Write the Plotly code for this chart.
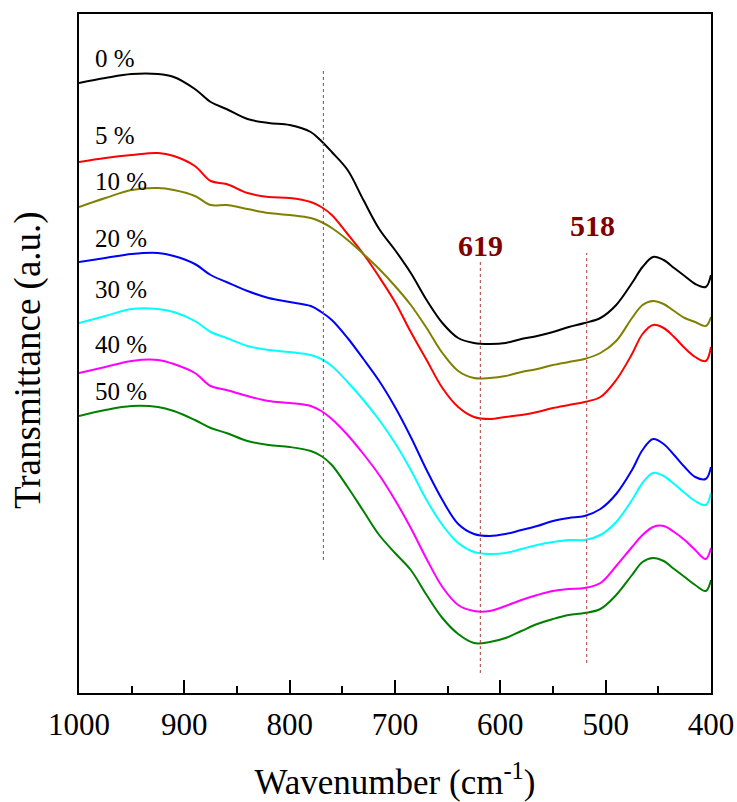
import plotly.graph_objects as go

wavenumber = [1000, 975, 950, 925, 910, 890, 875, 860, 840, 820, 800, 780, 770, 760, 745, 730, 715,
              700, 685, 670, 655, 640, 625, 610, 595, 580, 565, 550, 535, 520, 505, 490, 475, 465,
              455, 445, 435, 425, 415, 405, 400]

t_0 = [610, 615, 619, 619, 616, 604, 591, 584, 574, 570, 568, 561, 552, 541, 523, 493, 464,
       443, 420, 393, 370, 355, 350, 349, 350, 354, 357, 361, 366, 370, 375, 388, 410, 426,
       436, 433, 425, 417, 409, 406, 418]
t_5 = [531, 535, 538, 540, 537, 527, 512, 509, 500, 496, 495, 491, 486, 478, 459, 439, 416,
       391, 361, 333, 305, 286, 276, 274, 276, 278, 281, 285, 288, 291, 296, 313, 339, 359,
       368, 365, 356, 345, 336, 332, 346]
t_10 = [486, 495, 503, 505, 503, 497, 488, 488, 484, 480, 478, 475, 471, 465, 453, 439, 424,
        407, 388, 365, 340, 322, 315, 315, 317, 321, 324, 328, 331, 334, 340, 352, 375, 388,
        392, 389, 382, 375, 371, 367, 376]
t_20 = [431, 435, 439, 440, 437, 429, 418, 411, 402, 395, 391, 387, 381, 373, 355, 334, 312,
        286, 256, 223, 193, 169, 159, 157, 159, 163, 167, 172, 175, 177, 184, 199, 223, 243,
        254, 249, 238, 226, 216, 214, 226]
t_30 = [370, 377, 384, 384, 381, 372, 361, 355, 347, 343, 341, 338, 334, 327, 311, 293, 273,
        250, 223, 193, 168, 150, 141, 139, 140, 144, 148, 151, 153, 153, 158, 171, 193, 210,
        220, 217, 209, 200, 192, 188, 200]
t_40 = [320, 326, 332, 333, 329, 320, 307, 303, 297, 292, 290, 287, 282, 274, 258, 239, 218,
        193, 165, 134, 106, 88, 82, 82, 87, 93, 98, 102, 104, 105, 110, 127, 146, 158,
        166, 167, 161, 153, 143, 134, 145]
t_50 = [277, 283, 287, 286, 282, 273, 265, 260, 252, 248, 246, 242, 237, 228, 206, 182, 158,
        140, 123, 98, 75, 59, 50, 51, 55, 62, 69, 74, 78, 80, 84, 98, 118, 131,
        135, 132, 124, 116, 108, 102, 113]

series_names = ["0 %", "5 %", "10 %", "20 %", "30 %", "40 %", "50 %"]
series_values = [t_0, t_5, t_10, t_20, t_30, t_40, t_50]
series_colors = ["#000000", "#ff0000", "#808000", "#0000ff", "#00ffff", "#ff00ff", "#008000"]
label_y = [635, 558, 512, 455, 404, 349, 302]

marker_lines = [768, 619, 518]
marker_spans = [(133, 623), (20, 431), (30, 440)]
marker_labels = ["", "619", "518"]
marker_label_y = [None, 448, 468]
marker_label_shift = [0, 0, 6]

FONT = "Liberation Serif"

fig = go.Figure()
for name, vals, col in zip(series_names, series_values, series_colors):
    fig.add_trace(go.Scatter(x=wavenumber, y=vals, mode="lines", name=name,
                             line=dict(color=col, width=2, shape="spline", smoothing=1.0),
                             showlegend=False))

for name, ly in zip(series_names, label_y):
    fig.add_annotation(x=986.5, y=ly, text=name, showarrow=False, xanchor="left", yanchor="middle",
                       font=dict(family=FONT, size=25, color="black"))

for xv, (y0, y1), lab, lyy, sh in zip(marker_lines, marker_spans, marker_labels, marker_label_y,
                                      marker_label_shift):
    fig.add_shape(type="line", x0=xv, x1=xv, y0=y0, y1=y1, xref="x", yref="y",
                  line=dict(color="#b03a3a", width=1, dash="dot"))
    if lab:
        fig.add_annotation(x=xv, y=lyy, text="<b>" + lab + "</b>", showarrow=False,
                           xanchor="center", yanchor="middle", xshift=sh,
                           font=dict(family=FONT, size=30, color="#800000"))

# y-axis title as a rotated annotation
fig.add_annotation(x=-0.0807, y=0.4904, xref="paper", yref="paper", text="Transmittance (a.u.)",
                   textangle=-90, showarrow=False, xanchor="center", yanchor="middle",
                   font=dict(family=FONT, size=37, color="black"))

fig.update_layout(
    width=737, height=802,
    margin=dict(l=79, r=26, t=14, b=109),
    paper_bgcolor="white", plot_bgcolor="white",
    font=dict(family=FONT, color="black"),
)
fig.update_xaxes(range=[1000, 400], showline=True, linecolor="black", linewidth=2, mirror=True,
                 showgrid=False, zeroline=False, ticks="inside", ticklen=13, tickwidth=2,
                 tickcolor="black", dtick=100, tick0=400, automargin=False, ticklabelstandoff=3,
                 minor=dict(ticks="inside", ticklen=7, tickwidth=2, tickcolor="black", dtick=50),
                 tickfont=dict(family=FONT, size=31, color="black"),
                 title=dict(text="Wavenumber (cm<sup>-1</sup>)", font=dict(family=FONT, size=35),
                            standoff=32))
fig.update_yaxes(range=[0, 679], showline=True, linecolor="black", linewidth=2, mirror=True,
                 showgrid=False, zeroline=False, showticklabels=False, ticks="", automargin=False)

fig.write_html("out.html", config={"displayModeBar": False},
               post_script="document.body.style.margin='0';document.body.style.overflow='hidden';")
